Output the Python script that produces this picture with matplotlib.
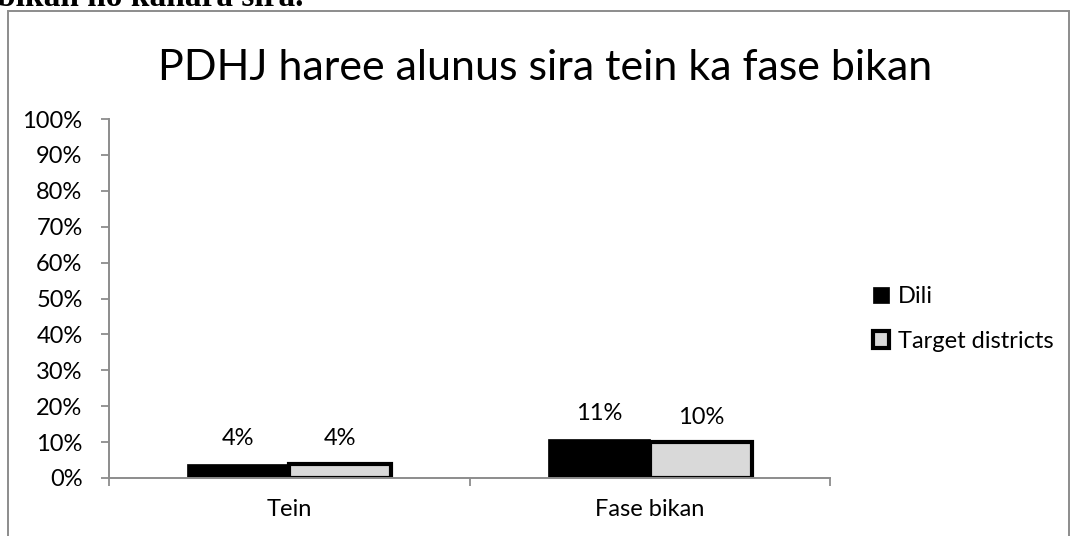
import matplotlib
matplotlib.use('Agg')
from matplotlib import pyplot as plt
from matplotlib.patches import Patch, Rectangle
import numpy as np

plt.rcParams['font.family'] = ['Lato', 'DejaVu Sans']

# data
categories = ['Tein', 'Fase bikan']
dili = [0.04, 0.11]
target = [0.04, 0.10]
series_names = ['Dili', 'Target districts']
title = 'PDHJ haree alunus sira tein ka fase bikan'
yticks = np.arange(0, 1.01, 0.1)

W, H = 1071, 536
fig = plt.figure(figsize=(W / 100, H / 100), dpi=100)
fig.patch.set_facecolor('white')

# axes placed in pixel terms
left, right, top, bottom = 109, 830, 119, 478
ax = fig.add_axes([left / W, 1 - bottom / H, (right - left) / W, (bottom - top) / H])

# outer chart frame (cut off at right/bottom like the screenshot)
fig.patches.append(Rectangle((8 / W, -0.05), (1069 - 8) / W, 1.05 - 11 / H,
                             transform=fig.transFigure, fill=False,
                             edgecolor='#8c8c8c', linewidth=1.4))

# leftover caption from the document above the chart, mostly cut off
fig.text(-3 / W, 1 - 6 / H, 'bikan no kahara sira.', family='Liberation Serif',
         fontweight='bold', fontsize=24, va='baseline', ha='left')

fs = 17
x = np.arange(len(categories))
bw = 0.283
b1 = ax.bar(x - bw / 2, dili, bw, color='black', edgecolor='black', linewidth=0.5)
b2 = ax.bar(x + bw / 2, target, bw, color='#d9d9d9', edgecolor='black', linewidth=3)

for bars, vals in [(b1, dili), (b2, target)]:
    for rect, v in zip(bars, vals):
        ax.annotate(f'{v * 100:.0f}%', (rect.get_x() + rect.get_width() / 2, v),
                    xytext=(0, 18), textcoords='offset points', ha='center',
                    va='center', fontsize=fs)

ax.set_xlim(-0.5, 1.5)
ax.set_ylim(0, 1)
ax.set_yticks(yticks)
ax.set_yticklabels([f'{t * 100:.0f}%' for t in yticks], fontsize=fs)
ax.set_xticks(x)
ax.set_xticklabels(categories, fontsize=fs)
ax.set_xticks([-0.5, 0.5, 1.5], minor=True)
ax.tick_params(axis='x', which='major', length=0, pad=15)
ax.tick_params(axis='x', which='minor', length=6, width=1.3, color='#8c8c8c', direction='out')
ax.tick_params(axis='y', length=6, width=1.3, color='#8c8c8c', direction='out', pad=13)

for s in ['top', 'right']:
    ax.spines[s].set_visible(False)
for s in ['left', 'bottom']:
    ax.spines[s].set_color('#8c8c8c')
    ax.spines[s].set_linewidth(1.4)

fig.text(545 / W, 1 - 68 / H, title, fontsize=31, ha='center', va='center')

handles = [Patch(facecolor='black', edgecolor='black', linewidth=0.5),
           Patch(facecolor='#d9d9d9', edgecolor='black', linewidth=3)]
fig.legend(handles, series_names, loc='center left',
           bbox_to_anchor=(873 / W, 1 - 319 / H), frameon=False, fontsize=fs,
           handlelength=0.68, handleheight=0.68, handletextpad=0.38,
           labelspacing=1.0, borderaxespad=0, borderpad=0)

fig.savefig('out.png', dpi=100, facecolor='white')
